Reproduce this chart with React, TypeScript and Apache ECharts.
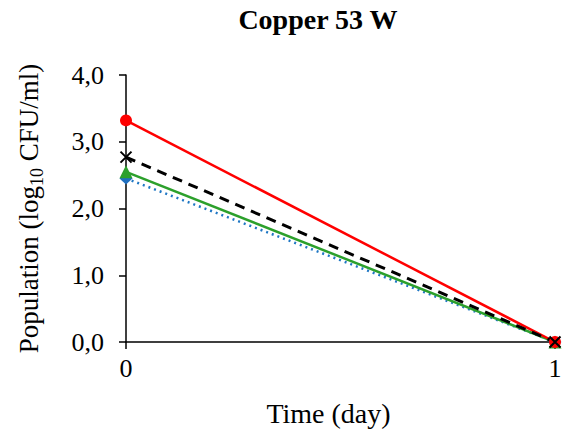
import React, { useEffect, useRef } from "react";
import * as echarts from "echarts";

const days = [0, 1];
const tickLabelsY = ["0,0", "1,0", "2,0", "3,0", "4,0"];
const seriesBlue = [2.45, 0];
const seriesGreen = [2.55, 0];
const seriesRed = [3.32, 0];
const seriesBlack = [2.77, 0];

const FONT = "'Liberation Serif', 'Times New Roman', serif";

export default function App() {
  const ref = useRef<HTMLDivElement>(null);
  useEffect(() => {
    if (!ref.current) return;
    const chart = echarts.init(ref.current, undefined, { renderer: "svg" });
    const pts = (vals: number[]) => days.map((d, i) => [d, vals[i]]);
    chart.setOption({
      animation: false,
      backgroundColor: "#ffffff",
      title: {
        text: "Copper 53 W",
        left: 313,
        top: 0,
        textAlign: "center",
        textStyle: { fontFamily: FONT, fontSize: 28, fontWeight: "bold", color: "#000" },
      },
      grid: { left: 126, right: 17, top: 75, bottom: 96 },
      xAxis: {
        type: "value",
        min: 0,
        max: 1,
        interval: 1,
        name: "Time (day)",
        nameLocation: "middle",
        nameGap: 57,
        nameTextStyle: { fontFamily: FONT, fontSize: 28, color: "#000", padding: [0, 24, 0, 0] },
        axisLine: { show: true, lineStyle: { color: "#000", width: 1.5 } },
        axisTick: { show: true, inside: false, length: 7, lineStyle: { color: "#000", width: 1.5 } },
        axisLabel: { fontFamily: FONT, fontSize: 26, color: "#000", margin: 13 },
        splitLine: { show: false },
      },
      yAxis: {
        type: "value",
        min: 0,
        max: 4,
        interval: 1,
        name: "{m|Population (log}{sub|10}{m| CFU/ml)}",
        nameLocation: "middle",
        nameRotate: 90,
        nameGap: 80,
        nameTextStyle: {
          fontFamily: FONT,
          fontSize: 27,
          color: "#000",
          rich: {
            m: { fontFamily: FONT, fontSize: 27, color: "#000", lineHeight: 34, verticalAlign: "middle" },
            sub: { fontFamily: FONT, fontSize: 18, color: "#000", lineHeight: 18, verticalAlign: "bottom", padding: [18, 0, 0, 0] },
          },
        },
        axisLine: { show: true, lineStyle: { color: "#000", width: 1.5 } },
        axisTick: { show: true, inside: false, length: 7, lineStyle: { color: "#000", width: 1.5 } },
        axisLabel: {
          fontFamily: FONT,
          fontSize: 26,
          color: "#000",
          margin: 22,
          formatter: (v: number) => tickLabelsY[Math.round(v)] ?? "",
        },
        splitLine: { show: false },
      },
      series: [
        {
          type: "line",
          data: pts(seriesBlue),
          symbol: "diamond",
          symbolSize: [13, 12],
          lineStyle: { color: "#1f77c4", width: 2.5, type: [2, 4] },
          itemStyle: { color: "#1f6fbf" },
        },
        {
          type: "line",
          data: pts(seriesGreen),
          symbol: "triangle",
          symbolSize: 13,
          lineStyle: { color: "#2ca02c", width: 2.5 },
          itemStyle: { color: "#2ca02c" },
        },
        {
          type: "line",
          data: pts(seriesRed),
          symbol: "circle",
          symbolSize: 12,
          lineStyle: { color: "#ff0000", width: 2.5 },
          itemStyle: { color: "#ff0000" },
        },
        {
          type: "line",
          data: pts(seriesBlack),
          symbol: "path://M0,0L10,10M10,0L0,10",
          symbolSize: 11,
          lineStyle: { color: "#000", width: 3, type: [10, 7] },
          itemStyle: { color: "none", borderColor: "#000", borderWidth: 2 },
        },
      ],
    });
    return () => chart.dispose();
  }, []);
  return <div ref={ref} style={{ position: "absolute", left: 0, top: 0, width: 572, height: 438 }} />;
}
